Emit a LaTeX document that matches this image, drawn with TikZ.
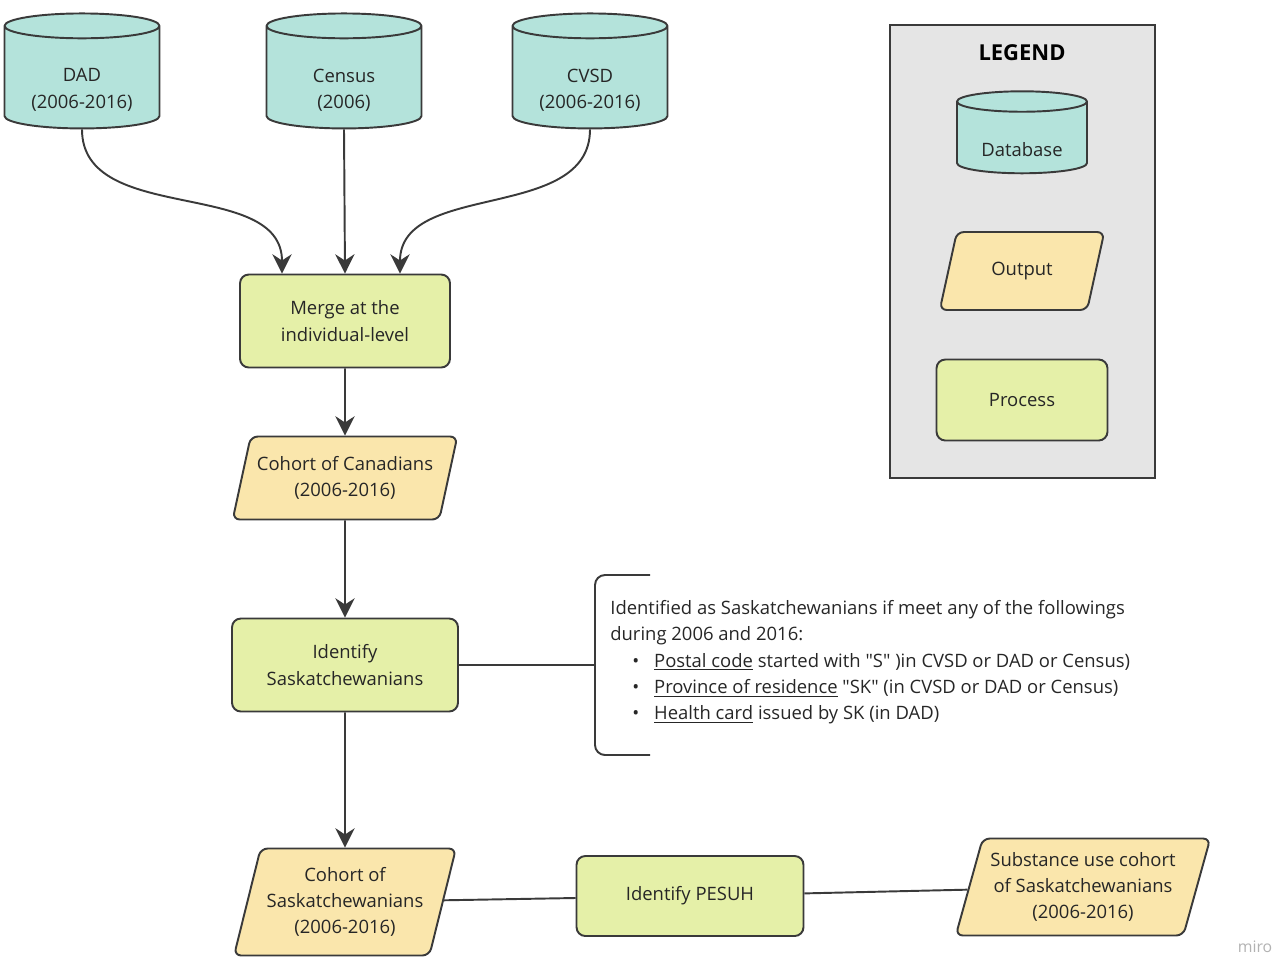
\documentclass[tikz,border=0pt]{standalone}
\usepackage{fontspec}
\setmainfont{Open Sans}
\usepackage{tikz}
\usetikzlibrary{positioning,arrows.meta,shapes.geometric}
\definecolor{dbfill}{HTML}{B4E3DB}
\definecolor{outfill}{HTML}{FAE6AC}
\definecolor{procfill}{HTML}{E5F0A8}
\definecolor{linec}{HTML}{3A3A3A}
\tikzset{
  base/.style={draw=linec,line width=1.1pt,align=center,font=\fontsize{10.5}{15}\selectfont,text=black!85},
  db/.style={base,cylinder,shape border rotate=90,aspect=0.22,fill=dbfill,minimum width=3.1cm,minimum height=2.3cm},
  dbtext/.style={label={[align=center,font=\fontsize{10.5}{15}\selectfont,text=black!85,yshift=-0.2cm]center:#1}},
  proc/.style={base,rounded corners=5pt,fill=procfill},
  outp/.style={base,trapezium,trapezium left angle=72,trapezium right angle=108,trapezium stretches=true,fill=outfill,rounded corners=4pt},
  arr/.style={draw=linec,line width=1.1pt,-{Stealth[length=11pt,width=11pt]}},
  lnk/.style={draw=linec,line width=1.1pt}
}
\begin{document}
\begin{tikzpicture}[x=0.02cm,y=-0.02cm]
\useasboundingbox (0,0) rectangle (1280,968);

% legend
\draw[fill=black!10,draw=linec,line width=1.1pt] (890,25) rectangle (1155,478);
\node[font=\bfseries\fontsize{12.5}{15}\selectfont] (leg) at (1022,53) {LEGEND};
\node[db,minimum width=2.6cm,minimum height=1.64cm,dbtext={Database}] (ldb) at (1022,140) {\phantom{Database}};
\node[outp,minimum width=3.3cm,minimum height=1.56cm] (lout) at (1022,271) {Output};
\node[proc,minimum width=3.42cm,minimum height=1.62cm] (lproc) at (1022,400) {Process};

% databases
\node[db,dbtext={DAD\\(2006-2016)}] (dad) at (82,80) {\phantom{(2006-2016)}\\\phantom{D}};
\node[db,dbtext={Census\\(2006)}] (census) at (344,80) {\phantom{(2006-2016)}\\\phantom{D}};
\node[db,dbtext={CVSD\\(2006-2016)}] (cvsd) at (590,80) {\phantom{(2006-2016)}\\\phantom{D}};

% main flow
\node[proc,minimum width=4.2cm,minimum height=1.86cm] (merge) at (345,321) {Merge at the\\individual-level};
\node[outp,minimum width=4.5cm,minimum height=1.66cm] (canad) at (345,478) {Cohort of Canadians\\(2006-2016)};
\node[proc,minimum width=4.52cm,minimum height=1.86cm] (ident) at (345,665) {Identify\\Saskatchewanians};
\node[outp,minimum width=4.44cm,minimum height=2.14cm] (sask) at (345,902) {Cohort of\\Saskatchewanians\\(2006-2016)};
\node[proc,minimum width=4.54cm,minimum height=1.6cm] (pesuh) at (690,896) {Identify PESUH};
\node[outp,minimum width=5.1cm,minimum height=1.94cm] (subst) at (1083,887) {Substance use cohort\\of Saskatchewanians\\(2006-2016)};

\draw[arr] (dad.bottom) to[out=-90,in=90] ([xshift=-1.26cm]merge.north);
\draw[arr] (census.bottom) -- (merge.north);
\draw[arr] (cvsd.bottom) to[out=-90,in=90] ([xshift=1.1cm]merge.north);
\draw[arr] (merge) -- (canad);
\draw[arr] (canad) -- (ident);
\draw[arr] (ident) -- (sask);

% criteria bracket
\coordinate (brk) at (595,665);
\draw[lnk] (650,575) -- (605,575) to[out=180,in=90] (595,585) -- (595,745) to[out=-90,in=180] (605,755) -- (650,755);
\draw[lnk] (ident) -- (brk);
\node[anchor=north west,align=left,font=\fontsize{10.5}{15}\selectfont,text=black!85,inner sep=0pt] (crit) at (610,600)
 {Identified as Saskatchewanians if meet any of the followings\\during 2006 and 2016:\\
  \hspace{1.2em}\textbullet\hspace{0.8em}\underline{Postal code} started with \textquotedbl S\textquotedbl\ )in CVSD or DAD or Census)\\
  \hspace{1.2em}\textbullet\hspace{0.8em}\underline{Province of residence} \textquotedbl SK\textquotedbl\ (in CVSD or DAD or Census)\\
  \hspace{1.2em}\textbullet\hspace{0.8em}\underline{Health card} issued by SK (in DAD)};

\draw[lnk] (sask) -- (pesuh);
\draw[lnk] (pesuh) -- (subst);

\node[text=black!30,font=\fontsize{9}{10}\selectfont] (miro) at (1255,947) {miro};
\end{tikzpicture}
\end{document}
